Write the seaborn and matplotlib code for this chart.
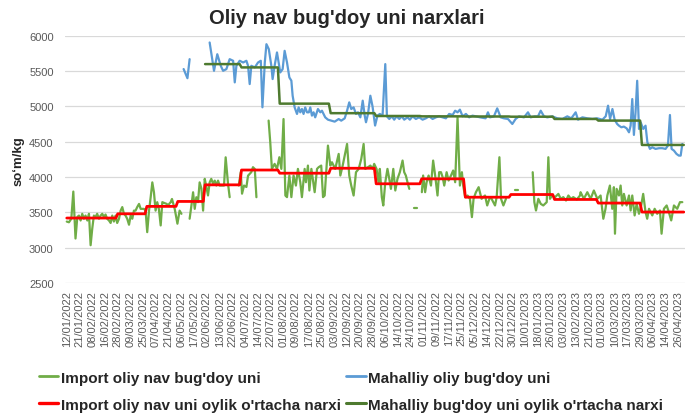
import numpy as np
import pandas as pd
import matplotlib
matplotlib.use('Agg')
import matplotlib.pyplot as plt
from matplotlib.lines import Line2D
import seaborn as sns

nan = np.nan

# Tick labels (one every 7 categories on the axis)
date_labels = ['12/01/2022', '21/01/2022', '08/02/2022', '16/02/2022', '28/02/2022', '09/03/2022',
               '25/03/2022', '07/04/2022', '21/04/2022', '06/05/2022', '17/05/2022', '02/06/2022',
               '13/06/2022', '22/06/2022', '04/07/2022', '14/07/2022', '22/07/2022', '01/08/2022',
               '09/08/2022', '17/08/2022', '25/08/2022', '03/09/2022', '12/09/2022', '20/09/2022',
               '28/09/2022', '06/10/2022', '14/10/2022', '24/10/2022', '01/11/2022', '09/11/2022',
               '17/11/2022', '25/11/2022', '05/12/2022', '14/12/2022', '22/12/2022', '30/12/2022',
               '10/01/2023', '18/01/2023', '26/01/2023', '03/02/2023', '13/02/2023', '21/02/2023',
               '01/03/2023', '10/03/2023', '17/03/2023', '29/03/2023', '06/04/2023', '14/04/2023',
               '26/04/2023']

# Import flour price (category index, so'm/kg); nan = gap in data
import_x = [0, 1.2, 2.5, 3.6, 4.8, 5.8, 6.7, 7.6, 8.5, 9.4, 10.3, 11.3, 12.2, 13.1, 14, 14.9, 15.8, 16.7,
            17.7, 18.6, 19.5, 20.4, 21.3, 22.2, 23.2, 24.1, 25, 25.9, 26.8, 27.7, 28.7, 29.6, 30.5, 31.4,
            32.3, 33.2, 34.2, 35.1, 36, 36.9, 37.8, 38.7, 39.7, 40.6, 41.5, 42.4, 43.3, 44.2, 45.2, 46.1,
            47, 47.9, 48.8, 49.7, 50.6, 51.6, 52.5, 53.4, 54.9, 55.6, 57.1, 57.8, 59.3, 60.8, 62, 63, nan,
            67.5, 68.5, 69.4, 70.3, 71.2, 72.1, 73, 74, 74.9, 75.8, 76.7, 77.6, 78.5, 79.4, 80.4, 81.3,
            82.2, 83.1, 84, 85, 86.4, 87.3, 88.6, 89.5, nan,
            94.5, 95.6, 96.3, 97.4, 98.7, 99.6, 101.4, 102.3, 103.3, 104.2, nan,
            110.9, 111.8, 112.7, 114.2, 115.5, 116.8, 117.9, 119.1, 120.1, 121, 122.3, 123.4, 124.6,
            125.9, 127, 128.3, 129.2, 130.7, 131.4, 132.5, 133.3, 134.4, 136.2, 137.5, 138.4, 139.8,
            140.8, 141.7, 143.5, 144.8, 145.7, 147.5, 149.4, 150.3, 151.6, 152.7, 154, 155.2, 156.3,
            157.6, 158.9, 160.4, 161.8, 163.1, 164, 165.5, 166.8, 168.1, 168.9, 170.2, 171.3, 172,
            173.1, 173.9, 175, 176.2, 177.2, 178.1, 179.4, 180.5, 181.7, 183, 184.5, 185.4, 186.3,
            187.2, 188.2, nan, 191, 192.7, nan,
            195.1, 195.8, 196.9, 197.7, 198.8, 200.1, 201.3, 202.4, 203.7, 204.6, 205.6, 206.5, 207.4,
            208.7, 209.8, 211.1, 212.3, 213.4, 214.7, 216, 217.1, 217.8, 218.9, 220.2, 221.5, 222.6,
            223.5, 224.8, 226.3, 227.9, 229.8, 231, 232.5, 233.4, 235.3, 236.2, 237.7, 238.6, 239.9,
            241.3, nan, 246.3, 248, nan,
            256, 256.9, 257.8, 259.1, 260.4, 261.8, 263.7, 264.6, 265.5, 266.4, 268.3, 270.1, 271.4,
            272.8, 274.3, 275.6, 277, 278.3, 280.2, 282, 282.3, 284.1, 286, 287.8, 289.6, 291.5, 293.3,
            294.8, 296, 297, 298.4, 299.7, 300.6, 301.2, 302.1, 303.4, 304.3, 305.2, 306.1, 307.6,
            308.9, 309.8, 310.7, 312, 313.1, 314.4, 315.6, 316.7, 318, 318.9, 319.9, 321.7, 323, 324.4,
            325.9, 326.8, 328.1, 329.6, 330.8, 332.1, 333.6, 335.4, 336.9, 338.2]
import_y = [3370, 3360, 3410, 3795, 3130, 3435, 3455, 3385, 3480, 3410, 3455, 3385, 3480, 3035, 3270, 3455,
            3435, 3480, 3410, 3455, 3480, 3435, 3470, 3410, 3385, 3350, 3455, 3370, 3455, 3350, 3410, 3525,
            3575, 3480, 3455, 3410, 3325, 3455, 3410, 3525, 3525, 3575, 3620, 3550, 3550, 3550, 3525, 3220,
            3525, 3715, 3925, 3785, 3525, 3645, 3550, 3315, 3645, 3635, 3620, 3600, 3645, 3690, 3550, 3340,
            3525, 3480, nan,
            3410, 3600, 3785, 3550, 3715, 3645, 3925, 3835, 3525, 3975, 3860, 3740, 3925, 3975, 3905, 3950,
            3880, 3950, 3880, 3880, 3880, 4280, 3905, 3715, nan,
            3880, 4070, 3765, 3880, 3860, 4020, 4070, 4140, 4115, 3715, nan,
            4800, 4493, 4116, 4187, 4116, 4281, 4116, 4822, 3739, 3716, 4022, 3716, 4022, 3880, 4116,
            3927, 3716, 4116, 3927, 4163, 3810, 4116, 3786, 4116, 4140, 4163, 3716, 3739, 4446, 4163,
            4210, 4116, 4328, 4022, 4163, 4304, 4469, 4022, 3880, 3739, 4069, 4116, 4257, 4469, 4116,
            4140, 4163, 4116, 4187, 4116, 3927, 4116, 3716, 3598, 3927, 4116, 3975, 3833, 4116, 3810,
            3975, 4069, 4234, 4069, 4022, 3927, 3833, nan, 3565, 3565, nan,
            3786, 4022, 3786, 3927, 4022, 3880, 4234, 4022, 3739, 4069, 4069, 4000, 3880, 4069, 3951,
            4022, 4093, 3927, 4846, 3880, 4069, 3880, 3716, 3739, 3692, 3433, 3692, 3786, 3857, 3692,
            3739, 3598, 3716, 3692, 3598, 3716, 4281, 3692, 3598, 3692, nan, 3820, 3820, nan,
            4069, 3645, 3527, 3692, 3621, 3598, 3645, 4281, 3692, 3739, 3716, 3762, 3692, 3716, 3668,
            3739, 3692, 3716, 3683, 3739, 3786, 3692, 3786, 3692, 3810, 3692, 3739, 3410, 3551, 3739,
            3880, 3551, 3857, 3198, 3833, 3739, 3880, 3598, 3762, 3598, 3739, 3527, 3739, 3457, 3621,
            3480, 3598, 3762, 3504, 3410, 3551, 3457, 3551, 3480, 3527, 3198, 3551, 3598, 3504, 3386,
            3598, 3551, 3645, 3645]

# Local flour price
local_x = [64.2, 66.3, 67.5, nan,
           78.5, 80.9, 82.7, 84.6, 85.9, 87.7, 89.5, 91.4, 92.3, 93.2, 95, 96.9, 98.7, 99.6, 100.5, 101.4,
           103.3, 105.1, 106.6, 107.5, 108.8, 109.7, 111, 112.4, 113.1, 114.2, 115.5, 116.4, 117.3, 118.6,
           119.7, 121, 122.3, 123.4, 124.1, 125.2, 126.5, 127.4, 128.3, 129.2, 130.1, 131, 132, 133,
           133.8, 134.7, 135.6, 136.5, 138, 139.3, 140.2, 141.1, 142, 143.5, 145.3, 147.2, 149.4, 150.8,
           152.7, 154, 155.2, 156.3, 157.6, 158.9, 160, 161.3, 162.6, 163.7, 164.4, 165.5, 166.8, 168,
           169.4, 170.7, 172, 173.5, 175, 175.9, 177.2, 178.6, 179.9, 181.2, 182.7, 184.1, 185.4, 187.2,
           188.5, 190, 191.8, 193.6, 195.5, 197.3, 199.1, 201, 202.8, 204.6, 206.5, 208.3, 210.1, 212,
           213.4, 214.7, 216, 217.5, 219.3, 221.1, 222.9, 224.8, 227.1, 230.1, 231.4, 232.5, 234.7,
           236.5, 238.4, 240.2, 242.4, 244.8, 246.6, 248.5, 251.2, 253.4, 254.9, 257.1, 258.9, 260.4,
           262.2, 264, 266.8, 269.5, 272.3, 275, 277.2, 279.6, 280.9, 283.3, 286, 288.8, 291.5, 294.3,
           296.1, 297.4, 298.5, 299.8, 301, 302.4, 303.4, 304.7, 306.1, 307.6, 308.9, 309.8, 310.7,
           311.6, 312.5, 313.4, 314.4, 315.3, 316.7, 318, 319, 320.4, 321.7, 323.5, 325.4, 327.2, 329,
           330.3, 331.4, 332.3, 333.6, 335, 336.3, 337.3, 338.2]
local_y = [5530, 5400, 5670, nan,
           5906, 5505, 5740, 5576, 5505, 5529, 5670, 5647, 5341, 5576, 5647, 5623, 5647, 5576, 5317, 5576,
           5553, 5623, 5647, 4988, 5623, 5882, 5812, 5576, 5388, 5576, 5765, 5623, 5482, 5529, 5788,
           5623, 5411, 5365, 5152, 4987, 4894, 4987, 4917, 4964, 4894, 4987, 4917, 4917, 4987, 4870,
           4917, 4846, 4964, 4917, 4940, 4894, 4846, 4813, 4799, 4785, 4822, 4799, 4832, 4940, 5058,
           4964, 4987, 4894, 4917, 4846, 5082, 4870, 4776, 4894, 5152, 5000, 4730, 4870, 4894, 4870,
           5600, 4860, 4823, 4860, 4813, 4860, 4823, 4860, 4813, 4846, 4813, 4860, 4823, 4846, 4813,
           4832, 4860, 4823, 4846, 4860, 4846, 4832, 4894, 4880, 4940, 4917, 4955, 4860, 4894, 4846,
           4870, 4860, 4846, 4832, 4917, 4846, 4860, 4973, 4846, 4832, 4823, 4752, 4823, 4860, 4846,
           4917, 4846, 4860, 4860, 4940, 4860, 4846, 4860, 4832, 4823, 4860, 4832, 4917, 4813, 4846,
           4832, 4823, 4832, 4813, 4860, 5011, 4823, 4964, 4813, 4752, 4728, 4705, 4715, 4690, 4634,
           4728, 5105, 4597, 4917, 5364, 4682, 4776, 4682, 4728, 4493, 4399, 4422, 4399, 4409, 4409,
           4399, 4446, 4879, 4399, 4375, 4328, 4304, 4304, 4469]

# Monthly averages: first category of each month, then the average for that month
month_start = [0, 10, 28, 44, 61, 76, 96, 117, 145, 170, 195, 219, 244, 268, 292, 316]
last_category = 339
import_avg = [3420, 3420, 3480, 3585, 3655, 3890, 4100, 4055, 4125, 3905, 3975, 3715, 3753, 3683, 3632, 3505]
local_avg = [nan, nan, nan, nan, nan, 5600, 5553, 5040, 4905, 4865, 4860, 4858, 4855, 4823, 4800, 4455]

names = ["Import oliy nav bug'doy uni", "Mahalliy oliy bug'doy uni",
         "Import oliy nav uni oylik o'rtacha narxi", "Mahalliy bug'doy uni oylik o'rtacha narxi"]
colors = ['#70AD47', '#5B9BD5', '#FF0000', '#4E7A2F']
widths = [1.6, 1.6, 2.0, 1.8]


def to_frame(xs, ys):
    df = pd.DataFrame({'x': xs, 'y': ys})
    df['seg'] = df['y'].isna().cumsum()
    return df.dropna()


def step_frame(values):
    ends = month_start[1:] + [last_category + 1]
    xs, ys = [], []
    for s, e, v in zip(month_start, ends, values):
        if np.isnan(v):
            xs.append(nan); ys.append(nan)
            continue
        xs += [s, e - 1]
        ys += [v, v]
    return to_frame(xs, ys)


frames = [to_frame(import_x, import_y), to_frame(local_x, local_y),
          step_frame(import_avg), step_frame(local_avg)]

sns.set_theme(style='white')
plt.rcParams['font.family'] = ['Liberation Sans', 'DejaVu Sans']

fig = plt.figure(figsize=(6.89, 4.14), dpi=100)
ax = fig.add_axes([0.094, 0.314, 0.900, 0.597])

for df, c, w in zip(frames, colors, widths):
    sns.lineplot(data=df, x='x', y='y', units='seg', estimator=None, sort=False,
                 color=c, linewidth=w, legend=False, ax=ax)

ax.set_xlim(-1.1, 339.6)
ax.set_ylim(2500, 6000)
ax.set_yticks(range(2500, 6001, 500))
ax.set_xticks(np.arange(len(date_labels)) * 7)
ax.set_xticklabels(date_labels, rotation=90, fontsize=8, color='#595959')
ax.tick_params(axis='y', labelsize=8, labelcolor='#595959', length=0, pad=8)
ax.tick_params(axis='x', length=0, pad=5)
ax.grid(axis='y', color='#D9D9D9', linewidth=0.9)
ax.grid(axis='x', visible=False)
for s in ax.spines.values():
    s.set_visible(False)
ax.set_xlabel('')
ax.set_ylabel('')

fig.text(0.503, 0.955, "Oliy nav bug'doy uni narxlari", ha='center', va='center',
         fontsize=14.5, fontweight='bold', color='#262626')
fig.text(0.027, 0.61, 'so\u2018m/kg', rotation=90, ha='center', va='center',
         fontsize=9.5, fontweight='bold', color='#262626')

handles = [Line2D([], [], color=c, linewidth=w + 0.4) for c, w in zip(colors, widths)]
order = [0, 2, 1, 3]
fig.legend([handles[i] for i in order], [names[i] for i in order], ncol=2,
           loc='upper left', bbox_to_anchor=(0.056, 0.102), frameon=False,
           prop={'weight': 'bold', 'size': 11},
           handlelength=1.3, handletextpad=0.15, columnspacing=0.35, labelspacing=0.85,
           borderaxespad=0, borderpad=0)

fig.savefig('out.png', dpi=100)
